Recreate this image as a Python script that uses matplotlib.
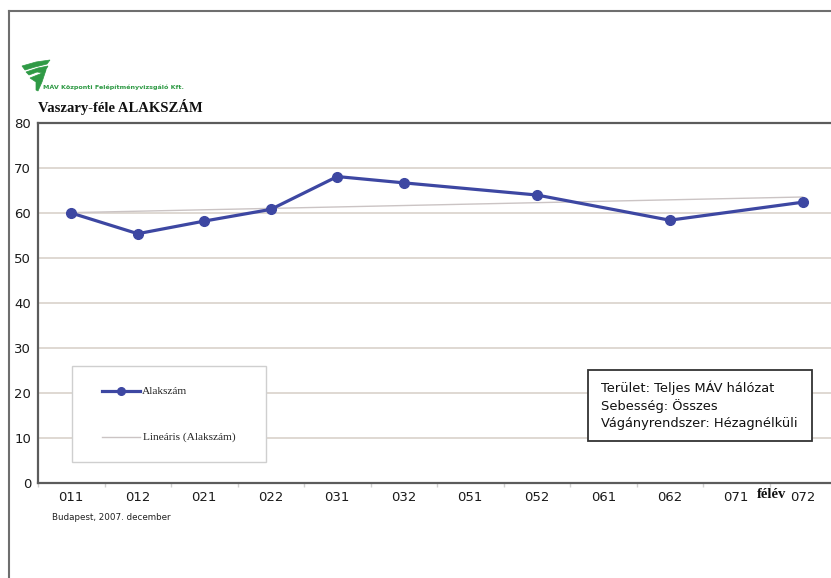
import numpy as np
import matplotlib
matplotlib.use("Agg")
import matplotlib.pyplot as plt
from matplotlib.lines import Line2D
from matplotlib.patches import Polygon, Rectangle
from matplotlib.transforms import Affine2D

# Half-year periods (year digit + half) and the Vaszary shape number
periods = ["011", "012", "021", "022", "031", "032",
           "051", "052", "061", "062", "071", "072"]
alakszam = [60.0, 55.4, 58.2, 60.8, 68.1, 66.7,
            None, 64.0, None, 58.4, None, 62.4]
y_ticks = [0, 10, 20, 30, 40, 50, 60, 70, 80]

title = "Vaszary-féle ALAKSZÁM"
company = "MÁV Központi Felépítményvizsgáló Kft."
legend_labels = ["Alakszám", "Lineáris (Alakszám)"]
info_lines = ["Terület: Teljes MÁV hálózat",
              "Sebesség: Összes",
              "Vágányrendszer: Hézagnélküli"]

LINE_C = "#3d47a2"
TREND_C = "#cbc4c4"
GRID_C = "#dcd5cf"
FRAME_C = "#5c5c5c"
GREEN = "#2f9a45"

W, H = 831, 578
fig = plt.figure(figsize=(W / 100, H / 100), dpi=100)
fig.patch.set_facecolor("white")
# pixel coordinates measured from the top-left corner of the figure
px = Affine2D().scale(1 / W, -1 / H).translate(0, 1) + fig.transFigure

ax = fig.add_axes([38 / W, (H - 483) / H, 798 / W, 360 / H])
x = np.arange(len(periods))
y = np.array([np.nan if v is None else v for v in alakszam], float)
ok = ~np.isnan(y)

# linear trend of the measured values
slope, icpt = np.polyfit(x[ok], y[ok], 1)
xt = np.array([x[ok][0], x[ok][-1]])
ax.plot(xt, icpt + slope * xt, color=TREND_C, lw=1.0, zorder=2)
ax.plot(x[ok], y[ok], color=LINE_C, lw=2.3, marker="o", markersize=7,
        markerfacecolor=LINE_C, markeredgecolor=LINE_C, zorder=3)

ax.set_xlim(-0.5, len(periods) - 0.5)
ax.set_ylim(0, 80)
ax.set_yticks(y_ticks)
ax.set_xticks(x)
ax.set_xticklabels(periods)
ax.set_xticks(np.arange(len(periods) + 1) - 0.5, minor=True)
ax.tick_params(axis="x", which="major", length=0, pad=6, labelsize=9.5,
               labelcolor="#1a1a1a")
ax.tick_params(axis="x", which="minor", length=3, color="#d0d0d0",
               width=1.0)
ax.tick_params(axis="y", length=0, pad=5, labelsize=9.5,
               labelcolor="#1a1a1a")
ax.grid(axis="y", color=GRID_C, lw=1.3, zorder=0)
ax.set_axisbelow(True)
for side in ("left", "top", "bottom"):
    ax.spines[side].set_color(FRAME_C)
    ax.spines[side].set_linewidth(1.6)
ax.spines["right"].set_visible(False)

# legend box
fig.add_artist(Rectangle((72, 366), 194, 96, transform=px, facecolor="white",
                         edgecolor="#cfcfcf", lw=1.0, zorder=2))
fig.add_artist(Line2D([102, 140], [391, 391], transform=px, color=LINE_C,
                      lw=2.3, zorder=3))
fig.add_artist(Line2D([121], [391], transform=px, color=LINE_C, marker="o",
                      markersize=5.5, zorder=3))
fig.add_artist(Line2D([102, 140], [437, 437], transform=px, color=TREND_C,
                      lw=1.0, zorder=3))
for lbl, ly, lx in zip(legend_labels, (391, 437), (142, 143)):
    fig.text(lx / W, 1 - ly / H, lbl, ha="left", va="center", fontsize=8.2,
             family="Liberation Serif", color="#222222", zorder=4)

# information box
fig.add_artist(Rectangle((588, 370), 224, 71, transform=px,
                         facecolor="white", edgecolor="#333333", lw=1.3,
                         zorder=2))
for i, line in enumerate(info_lines):
    fig.text(601 / W, 1 - (388 + 18 * i) / H, line, ha="left", va="center",
             fontsize=9.4, family="DejaVu Sans", color="#111111", zorder=4)

# headings and notes
fig.text(38 / W, 1 - 107 / H, title, ha="left", va="center", fontsize=10.5,
         family="Liberation Serif", weight="bold", color="#111111")
fig.text(43 / W, 1 - 87 / H, company, ha="left", va="center", fontsize=4.6,
         weight="bold", color=GREEN)
fig.text(757 / W, 1 - 494 / H, "félév", ha="left", va="center",
         fontsize=10.5, family="Liberation Serif", weight="bold",
         color="#111111")
fig.text(52 / W, 1 - 518 / H, "Budapest, 2007. december", ha="left",
         va="center", fontsize=6.3, color="#222222")

# company swoosh
stripes = [
    [(22, 66), (36, 62), (50, 60), (47, 64), (35, 67), (25, 70)],
    [(26, 72), (38, 68), (48, 66), (44, 73), (37, 72), (29, 75)],
    [(30, 78), (40, 74), (46, 70), (42, 82), (38, 91), (36, 90), (36, 82)],
]
for pts in stripes:
    fig.add_artist(Polygon(pts, closed=True, transform=px, facecolor=GREEN,
                           edgecolor=GREEN, lw=0.5))

# page frame
fig.add_artist(Line2D([8.5, 830], [10.5, 10.5], transform=px,
                      color="#6e6e6e", lw=1.5))
fig.add_artist(Line2D([8.5, 8.5], [10.5, 578], transform=px,
                      color="#6e6e6e", lw=1.5))

fig.savefig("out.png", dpi=100, facecolor="white")
